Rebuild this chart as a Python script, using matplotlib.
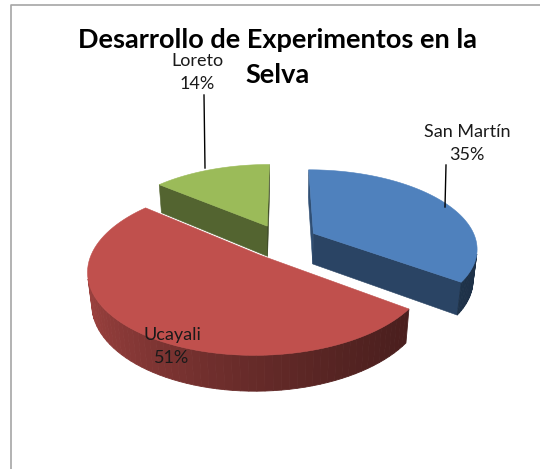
import numpy as np
import matplotlib.pyplot as plt
from matplotlib.patches import Polygon
import matplotlib.colors as mcolors

# data
regiones = ['San Martín', 'Ucayali', 'Loreto']
porcentajes = [35, 51, 14]
colores = ['#4F81BD', '#C0504D', '#9BBB59']
titulo = ['Desarrollo de Experimentos en la', 'Selva']

# 3d look
alpha = np.radians(28.3)
D = 5.0
explode = 0.22
h = 0.22
scale = 163
cx, cy = 282, 241

cam = np.array([0, -D * np.cos(alpha), D * np.sin(alpha)])


def proj(p):
    X, Y, Z = p
    u = X
    v = Y * np.sin(alpha) + Z * np.cos(alpha)
    w = Y * np.cos(alpha) - Z * np.sin(alpha)
    f = D / (D + w)
    return cx + scale * u * f, cy - scale * v * f


def shade(color, k):
    rgb = np.array(mcolors.to_rgb(color))
    return tuple(np.clip(rgb * k, 0, 1))


fig = plt.figure(figsize=(5.4, 4.69), dpi=100)
ax = fig.add_axes([0, 0, 1, 1])
ax.set_xlim(0, 540)
ax.set_ylim(469, 0)
ax.axis('off')

# chart border
ax.plot([11, 11, 545], [475, 5, 5], color='#A6A6A6', lw=1.2)

total = sum(porcentajes)
starts = np.cumsum([0] + porcentajes[:-1]) / total * 2 * np.pi
spans = np.array(porcentajes) / total * 2 * np.pi

slices = []
for i in range(len(porcentajes)):
    a = starts[i]
    b = a + spans[i]
    mid = (a + b) / 2
    off = np.array([np.sin(mid), np.cos(mid), 0]) * explode
    slices.append((a, b, off, colores[i]))

# far pieces first
order = sorted(range(len(slices)), key=lambda i: -slices[i][2][1])

light = np.array([-0.75, 0.3, 0.6])
light = light / np.linalg.norm(light)

for i in order:
    a, b, off, col = slices[i]
    th = np.linspace(a, b, 80)
    top = [off + np.array([np.sin(t), np.cos(t), 0]) for t in th]
    bot = [p + np.array([0, 0, -h]) for p in top]
    apex_t = off.copy()
    apex_b = off + np.array([0, 0, -h])

    # radial faces
    for ang, pts, nrm in [
        (a, [apex_t, top[0], bot[0], apex_b], np.array([-np.cos(a), np.sin(a), 0])),
        (b, [apex_t, top[-1], bot[-1], apex_b], np.array([np.cos(b), -np.sin(b), 0])),
    ]:
        c = np.mean(pts, axis=0)
        if np.dot(nrm, cam - c) > 0:
            k = 0.5 + 0.15 * np.dot(nrm, light)
            poly = [proj(p) for p in pts]
            ax.add_patch(Polygon(poly, closed=True, fc=shade(col, k), ec=shade(col, k), lw=0.4))

    # outer wall
    for j in range(len(th) - 1):
        tm = (th[j] + th[j + 1]) / 2
        nrm = np.array([np.sin(tm), np.cos(tm), 0])
        c = (top[j] + top[j + 1]) / 2
        if np.dot(nrm, cam - c) > 0:
            k = 0.62 + 0.3 * np.dot(nrm, light)
            poly = [proj(top[j]), proj(top[j + 1]), proj(bot[j + 1]), proj(bot[j])]
            ax.add_patch(Polygon(poly, closed=True, fc=shade(col, k), ec=shade(col, k), lw=0.6))

    # top face
    poly = [proj(apex_t)] + [proj(p) for p in top]
    ax.add_patch(Polygon(poly, closed=True, fc=col, ec=col, lw=0.4))

# title, two lines
ax.text(278, 48, titulo[0], ha='center', va='baseline', fontsize=19.5,
        fontweight='bold', family='Lato')
ax.text(278, 83, titulo[1], ha='center', va='baseline', fontsize=19.5,
        fontweight='bold', family='Lato')

# data labels
lbl_pos = {'San Martín': (467, 137), 'Ucayali': (172, 340), 'Loreto': (197, 66)}
for reg, pct in zip(regiones, porcentajes):
    x, y = lbl_pos[reg]
    ax.text(x, y, reg, ha='center', va='baseline', fontsize=13, family='Lato', color='#1a1a1a')
    ax.text(x, y + 23, f'{pct}%', ha='center', va='baseline', fontsize=13, family='Lato', color='#1a1a1a')

ax.plot([204, 205], [95, 168], color='black', lw=1)
ax.plot([446, 445], [165, 207], color='black', lw=1)

fig.savefig('out.png', dpi=100)
